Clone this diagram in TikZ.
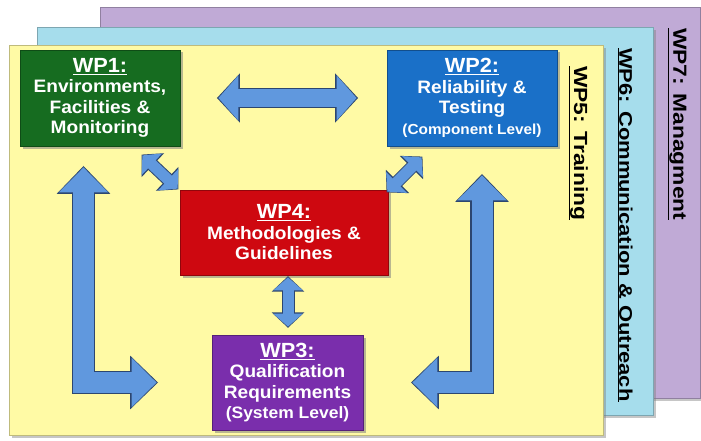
\documentclass[tikz,border=0pt]{standalone}
\usepackage{fontspec}
\usepackage{tikz}
\usetikzlibrary{arrows.meta,calc,shadows}
\newfontfamily\wpfont[FakeStretch=1.06]{Liberation Sans}
\newfontfamily\bandfont[FakeStretch=1.2]{Liberation Sans}
\definecolor{bandpurple}{RGB}{192,170,214}
\definecolor{bandcyan}{RGB}{166,221,236}
\definecolor{bandyellow}{RGB}{255,250,165}
\definecolor{wpgreen}{RGB}{22,108,32}
\definecolor{wpblue}{RGB}{26,112,200}
\definecolor{wpred}{RGB}{206,8,16}
\definecolor{wppurple}{RGB}{122,46,172}
\definecolor{arrowblue}{RGB}{96,152,222}
\definecolor{arrowedge}{RGB}{44,70,112}

\tikzset{
  band/.style={fill=#1, draw=#1!75!black, line width=0.8pt,
    drop shadow={opacity=0.45, shadow xshift=3pt, shadow yshift=-3pt}},
  bandlabel/.style={rotate=-90, anchor=west, inner sep=1pt,
    font=\bandfont\bfseries\fontsize{19}{21}\selectfont},
  wpbox/.style={fill=#1, draw=#1!70!black, line width=0.8pt, text=white,
    align=center, inner sep=0pt,
    font=\wpfont\bfseries\fontsize{18}{20.5}\selectfont,
    drop shadow={opacity=0.55, shadow xshift=2.5pt, shadow yshift=-2.5pt}},
  bigarrow/.style={draw=arrowblue, line width=18pt,
    >={Triangle[length=20pt,width=44pt]}, <->,
    preaction={draw=arrowedge, line width=20.5pt,
      shorten <=-1.5pt, shorten >=-1.5pt,
      >={Triangle[length=23pt,width=48pt]}, <->}},
  larrow/.style={draw=arrowblue, line width=21pt,
    >={Triangle[length=25pt,width=48pt]}, <->,
    preaction={draw=arrowedge, line width=23.5pt,
      shorten <=-1.5pt, shorten >=-1.5pt,
      >={Triangle[length=28pt,width=52pt]}, <->}},
  smallarrow/.style={draw=arrowblue, line width=11pt,
    >={Triangle[length=13pt,width=29pt]}, <->,
    preaction={draw=arrowedge, line width=13pt,
      shorten <=-1.2pt, shorten >=-1.2pt,
      >={Triangle[length=15.5pt,width=32pt]}, <->}}
}

\begin{document}
\begin{tikzpicture}[x=1pt,y=-1pt]
\useasboundingbox (0,0) rectangle (701,441);

\draw[band=bandpurple] (100,7) rectangle (700,398);
\draw[band=bandcyan] (37,27) rectangle (653,415);
\draw[band=bandyellow] (9,45) rectangle (603,435);

\node[bandlabel] (wp7) at (677,27) {\underline{WP7: Managment}};
\node[bandlabel, font=\bandfont\bfseries\fontsize{18.3}{20}\selectfont]
  (wp6) at (625,47) {\underline{WP6: Communication \& Outreach}};
\node[bandlabel] (wp5) at (578,65) {\underline{WP5: Training}};

\node[wpbox=wpgreen, minimum width=160pt, minimum height=96pt] (wp1) at (100,98)
  {{\fontsize{20.5}{22}\selectfont\underline{WP1:}}\\Environments,\\Facilities \&\\Monitoring};
\node[wpbox=wpblue, minimum width=170pt, minimum height=96pt] (wp2) at (472,98)
  {{\fontsize{20.5}{22}\selectfont\underline{WP2:}}\\Reliability \&\\Testing\\
   {\fontsize{14.5}{16}\selectfont(Component Level)}};
\node[wpbox=wpred, minimum width=208pt, minimum height=85pt] (wp4) at (284,232.5)
  {{\fontsize{20.5}{22}\selectfont\underline{WP4:}}\\Methodologies \&\\Guidelines};
\node[wpbox=wppurple, minimum width=151pt, minimum height=95pt] (wp3) at (287.5,382.5)
  {{\fontsize{20.5}{22}\selectfont\underline{WP3:}}\\Qualification\\Requirements\\
   {\fontsize{16.5}{18}\selectfont(System Level)}};

\draw[bigarrow] ([xshift=38pt]wp1.east) -- ([xshift=-30pt]wp2.west);
\draw[smallarrow] ($(wp1.south east)+(-38,9)$) -- ($(wp4.north west)+(-2,-1)$);
\draw[smallarrow] ($(wp2.south west)+(35,11)$) -- ($(wp4.north east)+(-1,2)$);
\draw[smallarrow] ($(wp4.south)+(4,2)$) -- ($(wp3.north)+(0.5,-8)$);
\draw[larrow] ($(wp1.south)+(-16.5,21)$) |- ($(wp3.west)+(-55,0)$);
\draw[larrow] ($(wp2.south)+(10,29)$) |- ($(wp3.east)+(49,0)$);
\end{tikzpicture}
\end{document}
